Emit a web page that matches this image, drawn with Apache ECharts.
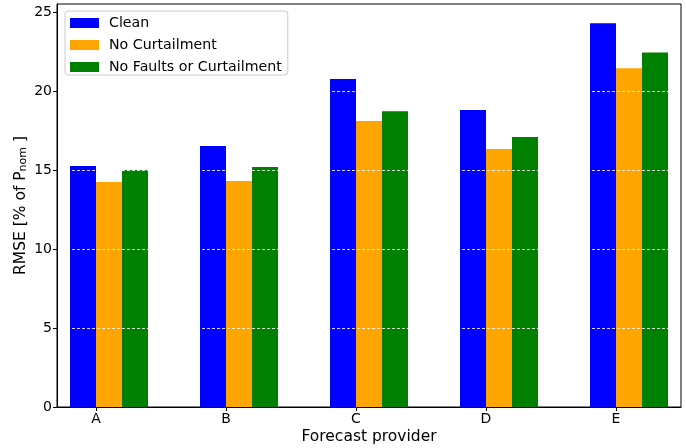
<!DOCTYPE html>
<html>
<head>
<meta charset="utf-8">
<script src="https://cdn.jsdelivr.net/npm/echarts@6/dist/echarts.min.js"></script>
<style>
  html, body { margin: 0; padding: 0; background: #fff; }
  #chart { width: 686px; height: 448px; }
</style>
</head>
<body>
<div id="chart"></div>
<script>
// Forecast providers and RMSE values (% of P_nom) for each data-cleaning variant
const providers = ['A', 'B', 'C', 'D', 'E'];
const clean = [15.27, 16.54, 20.78, 18.82, 24.32];
const noCurtailment = [14.26, 14.32, 18.12, 16.35, 21.47];
const noFaultsOrCurtailment = [15.02, 15.21, 18.75, 17.11, 22.47];
const yTicks = [0, 5, 10, 15, 20, 25];

// bar offsets from each provider tick, in axis units (bar width 0.2)
const barOffsets = [-0.1, 0.1, 0.3];
const seriesNames = ['Clean', 'No Curtailment', 'No Faults or Curtailment'];
const seriesColors = ['#0000ff', '#ffa500', '#008000'];
const seriesValues = [clean, noCurtailment, noFaultsOrCurtailment];

const font = 'DejaVu Sans';
const tickFs = 14;
const legendFs = 14.2;
const nameFs = 15.5;

const chart = echarts.init(document.getElementById('chart'), null, { renderer: 'canvas' });

const series = seriesValues.map((vals, k) => ({
  name: seriesNames[k],
  type: 'bar',
  barWidth: 26,
  barGap: '-100%',
  itemStyle: { color: seriesColors[k] },
  data: vals.map((v, i) => [i + barOffsets[k], v]),
  z: 2
}));

chart.setOption({
  animation: false,
  backgroundColor: '#fff',
  textStyle: { fontFamily: font },
  grid: {
    left: 57, right: 5, top: 4, bottom: 41,
    outerBoundsMode: 'none',
    containLabel: false,
    show: true, borderColor: '#000', borderWidth: 1, backgroundColor: 'transparent'
  },
  legend: {
    orient: 'vertical',
    left: 65, top: 11,
    itemWidth: 29, itemHeight: 10, itemGap: 8,
    icon: 'rect',
    padding: [5, 6, 1, 5],
    borderColor: '#cccccc', borderWidth: 1, borderRadius: 3,
    backgroundColor: 'rgba(255,255,255,0.8)',
    textStyle: { fontFamily: font, fontSize: legendFs, lineHeight: 13, color: '#000', padding: [0, 0, 0, 5] },
    data: seriesNames
  },
  xAxis: {
    type: 'value',
    min: -0.3, max: 4.5,
    name: 'Forecast provider',
    nameLocation: 'middle',
    nameGap: 22,
    nameMoveOverlap: false,
    nameTextStyle: { fontFamily: font, fontSize: nameFs, color: '#000' },
    axisLine: { show: true, onZero: false, lineStyle: { color: '#000', width: 1 } },
    axisTick: { show: true, length: 4, lineStyle: { color: '#000' }, customValues: [0, 1, 2, 3, 4] },
    axisLabel: {
      customValues: [0, 1, 2, 3, 4],
      formatter: v => providers[Math.round(v)],
      fontFamily: font, fontSize: tickFs, color: '#000', margin: 5
    },
    splitLine: { show: false }
  },
  yAxis: {
    type: 'value',
    min: 0, max: 25.54,
    name: '{a|RMSE [% of P}{s|nom}{a| ]}',
    nameLocation: 'middle',
    nameRotate: 90,
    nameGap: 28,
    nameMoveOverlap: false,
    nameTextStyle: {
      rich: {
        a: { fontFamily: font, fontSize: nameFs, color: '#000', verticalAlign: 'bottom', lineHeight: 20 },
        s: { fontFamily: font, fontSize: 11, color: '#000', verticalAlign: 'bottom', lineHeight: 15 }
      }
    },
    z: 10,
    axisLine: { show: true, onZero: false, lineStyle: { color: '#000', width: 1 } },
    axisTick: { show: true, length: 4, lineStyle: { color: '#000' }, customValues: yTicks },
    axisLabel: { customValues: yTicks, fontFamily: font, fontSize: tickFs, color: '#000', margin: 5 },
    splitLine: {
      show: true, showMinLine: false, showMaxLine: false,
      lineStyle: { color: 'rgba(255,255,255,0.85)', width: 1, type: [3, 2] }
    }
  },
  series: series
});
</script>
</body>
</html>
